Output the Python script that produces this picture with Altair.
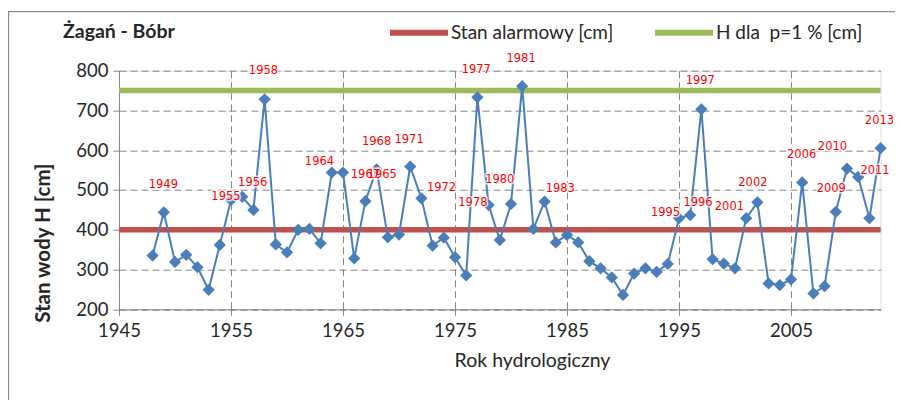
import altair as alt
import pandas as pd

title_text = ["Żagań - Bóbr"]

years = [1948, 1949, 1950, 1951, 1952, 1953, 1954, 1955, 1956, 1957,
         1958, 1959, 1960, 1961, 1962, 1963, 1964, 1965, 1966, 1967,
         1968, 1969, 1970, 1971, 1972, 1973, 1974, 1975, 1976, 1977,
         1978, 1979, 1980, 1981, 1982, 1983, 1984, 1985, 1986, 1987,
         1988, 1989, 1990, 1991, 1992, 1993, 1994, 1995, 1996, 1997,
         1998, 1999, 2000, 2001, 2002, 2003, 2004, 2005, 2006, 2007,
         2008, 2009, 2010, 2011, 2012, 2013]
levels = [335, 444, 319, 337, 306, 249, 362, 475, 483, 450,
          728, 363, 343, 400, 402, 366, 544, 544, 328, 472,
          552, 381, 388, 559, 479, 360, 380, 331, 285, 733,
          462, 374, 465, 761, 402, 471, 368, 387, 368, 321,
          303, 280, 236, 290, 303, 294, 314, 429, 437, 703,
          326, 315, 303, 429, 469, 265, 261, 275, 519, 240,
          258, 445, 554, 533, 429, 605]

label_text = ["1949", "1955", "1956", "1958", "1964", "1967", "1965", "1968",
              "1971", "1972", "1977", "1978", "1980", "1981", "1983", "1995",
              "1996", "1997", "2001", "2002", "2006", "2009", "2010", "2011", "2013"]
label_year = [1948.96, 1954.55, 1956.94, 1957.9, 1962.9, 1967.0, 1968.5, 1968.0,
              1970.9, 1973.8, 1976.9, 1976.6, 1979.0, 1980.9, 1984.4, 1993.8,
              1996.7, 1996.9, 1999.5, 2001.6, 2005.95, 2008.6, 2008.7, 2012.5, 2012.9]
label_level = [513, 482, 517, 798, 571, 538, 538, 621,
               626, 506, 802, 467, 525, 829, 502, 443,
               467, 774, 458, 517, 588, 502, 607, 548, 673]

ref_names = ["Stan alarmowy [cm]", "H dla\u00a0 p=1 % [cm]"]
ref_levels = [400, 750]
ref_colors = ["#C0504D", "#9BBB59"]

x_ticks = [1945, 1955, 1965, 1975, 1985, 1995, 2005]
y_ticks = [200, 300, 400, 500, 600, 700, 800]

series = pd.DataFrame({"rok": years, "stan": levels})
labels = pd.DataFrame({"rok": label_year, "stan": label_level, "t": label_text})
refs = pd.DataFrame({"nazwa": ref_names, "stan": ref_levels})
title_df = pd.DataFrame({"t": title_text})

FONT = "Lato"
TXT = "#262626"
GRID = "#868686"

x_scale = alt.Scale(domain=[1945, 2013], nice=False, zero=False)
y_scale = alt.Scale(domain=[200, 800], nice=False, zero=False)

x_axis = alt.Axis(values=x_ticks, format="d", title="Rok hydrologiczny",
                  grid=True, gridDash=[7, 4], gridColor=GRID, gridWidth=1,
                  domainColor=GRID, tickColor=GRID, tickSize=6,
                  labelFont=FONT, labelFontSize=18.5, labelColor=TXT,
                  labelOverlap=False, labelFlush=False,
                  labelPadding=6, titleFont=FONT, titleFontSize=19.5,
                  titleFontWeight="normal", titleColor=TXT,
                  titleX=413, titleY=51, titleAnchor="start",
                  titleAlign="center", titleBaseline="middle")
y_axis = alt.Axis(values=y_ticks, title="Stan wody H [cm]",
                  grid=True, gridDash=[7, 4], gridColor=GRID, gridWidth=1,
                  domainColor=GRID, tickColor=GRID, tickSize=6,
                  labelFont=FONT, labelFontSize=18.5, labelColor=TXT,
                  labelOverlap=False, labelFlush=False,
                  labelPadding=5, titleFont=FONT, titleFontSize=20.5,
                  titleFontWeight="bold", titleColor=TXT,
                  titleX=-76, titleY=172, titleAngle=-90,
                  titleAlign="center", titleBaseline="middle")

x_enc = alt.X("rok:Q", scale=x_scale, axis=x_axis)
y_enc = alt.Y("stan:Q", scale=y_scale, axis=y_axis)

ref_layer = alt.Chart(refs).mark_rule(strokeWidth=5.5).encode(
    y=y_enc,
    color=alt.Color("nazwa:N",
                    scale=alt.Scale(domain=ref_names, range=ref_colors),
                    legend=alt.Legend(orient="none", legendX=268, legendY=-70,
                                      direction="horizontal", title=None,
                                      symbolType="stroke", symbolSize=3364,
                                      symbolStrokeWidth=6, labelFont=FONT,
                                      labelFontSize=19, labelColor=TXT,
                                      labelOffset=0, labelLimit=400,
                                      columnPadding=29)),
)

line_layer = alt.Chart(series).mark_line(color="#4A7EBB", strokeWidth=2).encode(
    x=x_enc, y=y_enc)
point_layer = alt.Chart(series).mark_point(
    shape="diamond", size=150, filled=True, color="#4A7EBB", opacity=1).encode(
    x=x_enc, y=y_enc)

halo_layer = alt.Chart(labels).mark_text(
    font="DejaVu Sans", fontSize=11.5, stroke="white", strokeWidth=3,
    strokeOpacity=0.7, fill="white", fillOpacity=0.7,
    align="center", baseline="middle").encode(
    x=x_enc, y=y_enc, text="t:N")
label_layer = alt.Chart(labels).mark_text(
    font="DejaVu Sans", fontSize=11.5, color="#FF0000",
    align="center", baseline="middle").encode(
    x=x_enc, y=y_enc, text="t:N")

title_layer = alt.Chart(title_df).mark_text(
    font=FONT, fontSize=19.5, fontWeight="bold", color=TXT,
    align="left", baseline="middle").encode(
    x=alt.value(-56), y=alt.value(-39), text="t:N")

border_top = alt.Chart(title_df).mark_rule(color="#8C8C8C", strokeWidth=1.3).encode(
    x=alt.value(-111), x2=alt.value(800), y=alt.value(-59))
border_left = alt.Chart(title_df).mark_rule(color="#8C8C8C", strokeWidth=1.3).encode(
    x=alt.value(-110.5), y=alt.value(-59), y2=alt.value(400))

chart = alt.layer(
    ref_layer, line_layer, point_layer,
    halo_layer, label_layer, title_layer, border_top, border_left
).properties(
    width=761.6, height=238.6,
    autosize=alt.AutoSizeParams(type="none"),
    padding={"left": 111, "top": 62.7, "right": 14, "bottom": 91},
).configure_view(stroke=None).configure(background="white")

chart.save("out.html", embed_options={"renderer": "svg", "actions": False})
